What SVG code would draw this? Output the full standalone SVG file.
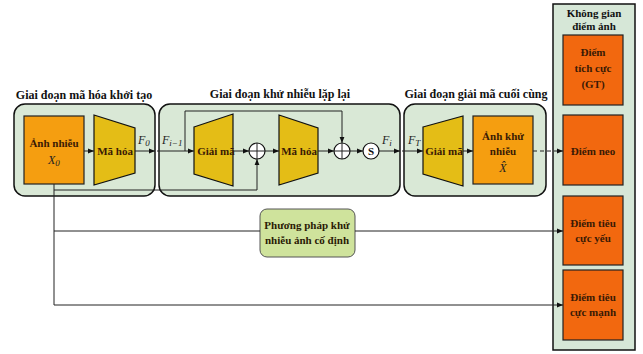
<svg xmlns="http://www.w3.org/2000/svg" width="643" height="354" viewBox="0 0 643 354">
<defs>
<marker id="ah" viewBox="0 0 10 10" refX="10" refY="5" markerWidth="6" markerHeight="6" orient="auto" markerUnits="userSpaceOnUse">
<path d="M0,1 L10,5 L0,9 Z" fill="#111"/>
</marker>
<style>
.stage{fill:#d9e8d6;stroke:#111;stroke-width:1.5}
.title{font-family:"Liberation Serif",serif;font-weight:bold;font-size:12px;fill:#111;text-anchor:middle}
.ptitle{font-family:"Liberation Serif",serif;font-weight:bold;font-size:11px;fill:#111;text-anchor:middle}
.lbl{font-family:"Liberation Serif",serif;font-weight:bold;font-size:11px;fill:#3a1a05;text-anchor:middle}
.var{font-family:"Liberation Serif",serif;font-style:italic;font-size:12px;fill:#222}
.org{fill:#f59e10;stroke:#222;stroke-width:1.2}
.red{fill:#f2680f;stroke:#222;stroke-width:1.2}
.yel{fill:#e4bd16;stroke:#111;stroke-width:1.2}
.circ{fill:#fff;stroke:#111;stroke-width:1.2}
.ln{fill:none;stroke:#222;stroke-width:1}
</style>
</defs>
<rect width="643" height="354" fill="#fff"/>

<g id="stage1">
<text class="title" x="84" y="99">Giai đoạn mã hóa khởi tạo</text>
<rect class="stage" x="14" y="104" width="141" height="92" rx="11"/>
</g>
<g id="stage2">
<text class="title" x="280" y="98">Giai đoạn khử nhiễu lặp lại</text>
<rect class="stage" x="159" y="104" width="241" height="92" rx="11"/>
</g>
<g id="stage3">
<text class="title" x="476" y="98">Giai đoạn giải mã cuối cùng</text>
<rect class="stage" x="404" y="104" width="142" height="92" rx="11"/>
</g>
<g id="pixel-space">
<rect x="553" y="4" width="82" height="346" fill="#d6e7d7" stroke="#111" stroke-width="1.5"/>
<text class="ptitle" x="594" y="17">Không gian</text>
<text class="ptitle" x="594" y="30">điểm ảnh</text>
</g>

<g id="noisy-image">
<rect class="org" x="24" y="116" width="60" height="68"/>
<text class="lbl" x="54" y="147">Ảnh nhiễu</text>
<text class="var" x="48" y="164">X<tspan font-size="9" dy="2">0</tspan></text>
</g>
<g id="encoder1">
<polygon class="yel" points="94,115 135,128 135,173 94,185"/>
<text class="lbl" x="115" y="155">Mã hóa</text>
</g>
<g id="decoder2">
<polygon class="yel" points="194,127 233,114 233,186 194,174"/>
<text class="lbl" x="216" y="155">Giải mã</text>
</g>
<g id="plus1">
<circle class="circ" cx="257" cy="151" r="8"/>
<path class="ln" d="M249,151 H265 M257,143 V159"/>
</g>
<g id="encoder2">
<polygon class="yel" points="279,115 318,128 318,173 279,185"/>
<text class="lbl" x="299" y="155">Mã hóa</text>
</g>
<g id="plus2">
<circle class="circ" cx="342" cy="151" r="8"/>
<path class="ln" d="M334,151 H350 M342,143 V159"/>
</g>
<g id="sched">
<circle class="circ" cx="371" cy="151" r="8"/>
<text class="lbl" x="371" y="155" style="fill:#111">S</text>
</g>
<g id="decoder3">
<polygon class="yel" points="423,127 463,116 463,186 423,174"/>
<text class="lbl" x="444" y="155">Giải mã</text>
</g>
<g id="denoised">
<rect class="org" x="473" y="116" width="60" height="68"/>
<text class="lbl" x="503" y="140">Ảnh khử</text>
<text class="lbl" x="503" y="155">nhiễu</text>
<text class="var" x="503" y="172" text-anchor="middle">X̂</text>
</g>
<g id="fixed-method">
<rect x="260" y="209" width="95" height="48" rx="7" fill="#cfe39c" stroke="#555" stroke-width="1"/>
<text class="lbl" x="307" y="229" style="fill:#2a1a05">Phương pháp khử</text>
<text class="lbl" x="307" y="244" style="fill:#2a1a05">nhiễu ảnh cố định</text>
</g>
<g id="positive">
<rect class="red" x="563" y="35" width="60" height="70"/>
<text class="lbl" x="593" y="56">Điểm</text>
<text class="lbl" x="593" y="72">tích cực</text>
<text class="lbl" x="593" y="88">(GT)</text>
</g>
<g id="anchor">
<rect class="red" x="563" y="115" width="60" height="70"/>
<text class="lbl" x="593" y="155">Điểm neo</text>
</g>
<g id="weak-negative">
<rect class="red" x="563" y="196" width="60" height="69"/>
<text class="lbl" x="593" y="227">Điểm tiêu</text>
<text class="lbl" x="593" y="242">cực yếu</text>
</g>
<g id="strong-negative">
<rect class="red" x="563" y="270" width="60" height="70"/>
<text class="lbl" x="593" y="301">Điểm tiêu</text>
<text class="lbl" x="593" y="316">cực mạnh</text>
</g>

<g id="labels">
<text class="var" x="138" y="144">F<tspan font-size="9" dy="2">0</tspan></text>
<text class="var" x="162" y="144">F<tspan font-size="9" dy="2">i−1</tspan></text>
<text class="var" x="382" y="144">F<tspan font-size="9" dy="2">i</tspan></text>
<text class="var" x="408" y="144">F<tspan font-size="9" dy="2">T</tspan></text>
</g>

<g id="connectors">
<path class="ln" d="M84,151 H94" marker-end="url(#ah)"/>
<path class="ln" d="M135,151 H155" marker-end="url(#ah)"/>
<path class="ln" d="M157,151 H194" marker-end="url(#ah)"/>
<path class="ln" d="M185,151 V111 H342 V143" marker-end="url(#ah)"/>
<path class="ln" d="M233,151 H249" marker-end="url(#ah)"/>
<path class="ln" d="M54,184 V190 H257 V159" marker-end="url(#ah)"/>
<path class="ln" d="M265,151 H279" marker-end="url(#ah)"/>
<path class="ln" d="M318,151 H334" marker-end="url(#ah)"/>
<path class="ln" d="M350,151 H363" marker-end="url(#ah)"/>
<path class="ln" d="M379,151 H400" marker-end="url(#ah)"/>
<path class="ln" d="M402,151 H423" marker-end="url(#ah)"/>
<path class="ln" d="M463,151 H473" marker-end="url(#ah)"/>
<path class="ln" d="M533,151 H563" stroke-dasharray="4,3" marker-end="url(#ah)"/>
<path class="ln" d="M54,190 V305"/>
<path class="ln" d="M54,231 H260"/>
<path class="ln" d="M355,231 H563" marker-end="url(#ah)"/>
<path class="ln" d="M54,305 H563" marker-end="url(#ah)"/>
</g>
</svg>
